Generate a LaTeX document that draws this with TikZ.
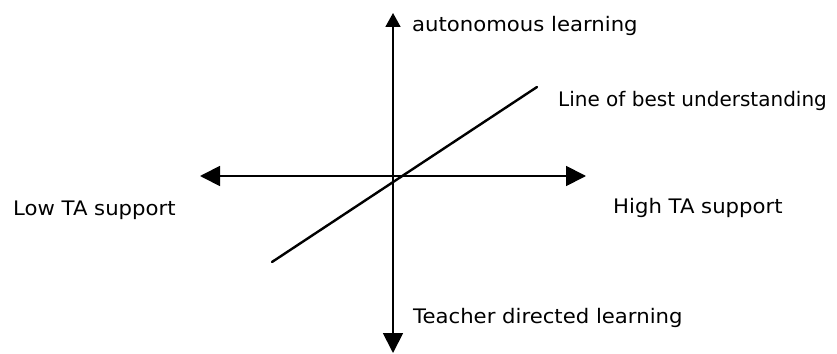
\documentclass[tikz,border=0pt]{standalone}
\usepackage{fontspec}
\setmainfont{DejaVu Sans}
\usetikzlibrary{arrows.meta}
\newcommand{\wlbl}[2][1.06]{\scalebox{#1}[1]{#2}}
\begin{document}
\begin{tikzpicture}[x=1pt,y=-1pt,
  axis/.style={line width=1.8pt,-{Triangle[length=20pt,width=20pt]}},
  bestline/.style={line width=2.4pt,line cap=round},
  lbl/.style={anchor=base west,inner sep=0pt,font=\fontsize{20}{24}\selectfont}]
\useasboundingbox (0,0) rectangle (837,353);
\coordinate (top) at (393,13);
\coordinate (bottom) at (393,353);
\coordinate (left) at (200,176);
\coordinate (right) at (586,176);
\coordinate (origin) at (393,176);
\coordinate (lowend) at (272,262);
\coordinate (highend) at (537,87);
\draw[line width=1.8pt,-{Triangle[length=14pt,width=15pt]}] (origin) -- (top);
\draw[axis] (origin) -- (bottom);
\draw[axis] (origin) -- (left);
\draw[axis] (origin) -- (right);
\draw[bestline] (lowend) -- (highend);
\node[lbl] (auto) at (412,32) {\wlbl{autonomous learning}};
\node[lbl] (best) at (558,106) {\wlbl[1.0]{Line of best understanding}};
\node[lbl] (low) at (13,215) {\wlbl{Low TA support}};
\node[lbl] (high) at (613,213) {\wlbl{High TA support}};
\node[lbl] (teach) at (413,323) {\wlbl{Teacher directed learning}};
\end{tikzpicture}
\end{document}
